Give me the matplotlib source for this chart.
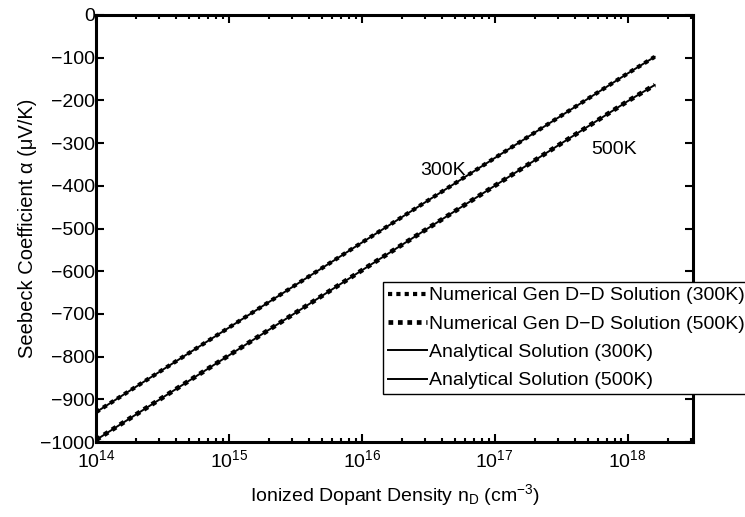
import numpy as np
import matplotlib.pyplot as plt
from matplotlib.ticker import LogLocator, NullFormatter

plt.rcParams['font.family'] = ['Liberation Sans', 'DejaVu Sans']
plt.rcParams['mathtext.fontset'] = 'custom'
plt.rcParams['mathtext.rm'] = 'Liberation Sans'
plt.rcParams['mathtext.it'] = 'Liberation Sans'

# dopant density (cm^-3) and Seebeck coefficient (uV/K)
n_d = [1e14, 1e15, 1e16, 1e17, 1e18, 1.6e18]
alpha_300 = [-930, -732, -533, -335, -137, -98]
alpha_500 = [-995, -797, -598, -400, -202, -164]

fig = plt.figure(figsize=(7.45, 5.17), dpi=100)
ax = fig.add_axes([0.129, 0.145, 0.801, 0.826])

dot = (0, (1, 1))
ax.plot(n_d, alpha_300, color='black', lw=3, linestyle=dot, dash_capstyle='butt',
        label='Numerical Gen D\u2212D Solution (300K)')
ax.plot(n_d, alpha_500, color='black', lw=3.4, linestyle=dot, dash_capstyle='butt',
        label='Numerical Gen D\u2212D Solution (500K)')
ax.plot(n_d, alpha_300, color='black', lw=1.4, label='Analytical Solution (300K)')
ax.plot(n_d, alpha_500, color='black', lw=1.4, label='Analytical Solution (500K)')

ax.set_xscale('log')
ax.set_xlim(1e14, 3.1e18)
ax.set_ylim(-1000, 0)
ax.set_yticks(np.arange(-1000, 1, 100))
ax.xaxis.set_major_locator(LogLocator(base=10, numticks=10))
ax.xaxis.set_minor_locator(LogLocator(base=10, subs=np.arange(2, 10), numticks=20))
ax.xaxis.set_minor_formatter(NullFormatter())

fs = 14
ax.tick_params(which='both', direction='in', top=True, right=True, labelsize=fs, width=1.5)
ax.tick_params(which='major', length=6)
ax.tick_params(which='minor', length=3)
ax.tick_params(axis='y', pad=1)
ax.tick_params(axis='x', pad=5)
for s in ax.spines.values():
    s.set_linewidth(2.2)

ax.set_xlabel('Ionized Dopant Density n$_\\mathrm{D}$ (cm$^{-3}$)', fontsize=fs, labelpad=8)
ax.set_ylabel('Seebeck Coefficient \u03b1 (\u03bcV/K)', fontsize=fs + 0.5, labelpad=2)

ax.text(10**16.44, -363, '300K', fontsize=fs, va='center', ha='left')
ax.text(10**17.73, -316, '500K', fontsize=fs, va='center', ha='left')

leg = ax.legend(loc='upper left', bbox_to_anchor=(383 / 745, 1 - 282 / 517),
                bbox_transform=fig.transFigure, fontsize=fs, handlelength=2.0,
                handletextpad=0.1, borderpad=0.25, labelspacing=0.55, borderaxespad=0,
                fancybox=False, framealpha=1, edgecolor='black')
leg.get_frame().set_linewidth(1.0)

fig.savefig('out.png', dpi=100)
